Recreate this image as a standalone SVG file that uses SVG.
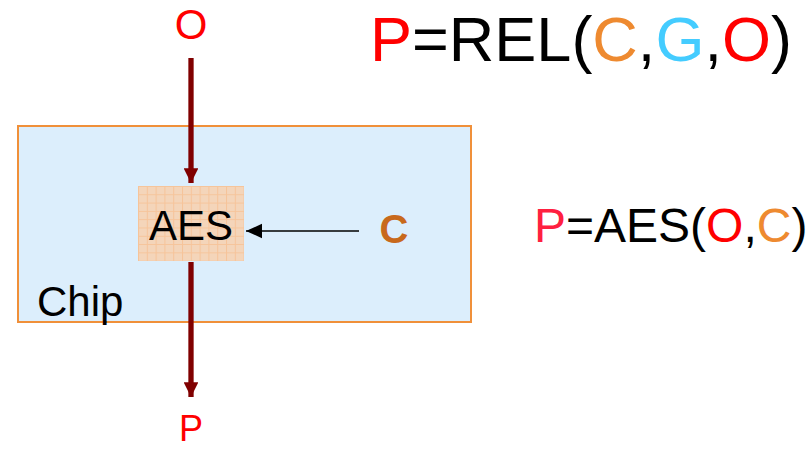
<svg xmlns="http://www.w3.org/2000/svg" width="811" height="449" viewBox="0 0 811 449">
<defs>
<style>
text{font-family:"Liberation Sans",Arial,sans-serif}
.red{fill:#FF0000}
.org{fill:#EE8A30}
.blu{fill:#44CCFF}
.blk{fill:#000000}
</style>
<pattern id="grid" x="138" y="186" width="8.8" height="8.3" patternUnits="userSpaceOnUse">
<rect width="8.8" height="8.3" fill="#F4D5BA"/>
<path d="M0 0.5H8.8M0.5 0V8.3" stroke="#F6C49A" stroke-width="1"/>
</pattern>
<marker id="ahRed" viewBox="0 0 10 10" refX="10" refY="5" markerWidth="2.8" markerHeight="2.8" orient="auto" markerUnits="strokeWidth">
<path d="M0 0L10 5L0 10Z" fill="#800000"/>
</marker>
<marker id="ahBlk" viewBox="0 0 10 10" refX="10" refY="5" markerWidth="10" markerHeight="10" orient="auto" markerUnits="strokeWidth">
<path d="M0 0.5L10 5L0 9.5Z" fill="#000"/>
</marker>
</defs>
<rect width="811" height="449" fill="#FFFFFF"/>
<g id="chip">
<rect x="18" y="126" width="453" height="196" fill="#DCEEFC" stroke="#F0903A" stroke-width="2"/>
<text x="37" y="316" font-size="42" class="blk">Chip</text>
</g>
<g id="aes">
<rect x="138" y="186" width="106" height="75" fill="url(#grid)"/>
<text x="191" y="240" font-size="42" text-anchor="middle" class="blk">AES</text>
</g>
<g id="inputO">
<text x="191" y="39" font-size="42" text-anchor="middle" class="red">O</text>
</g>
<g id="inputC">
<text x="394" y="243" font-size="40" font-weight="bold" text-anchor="middle" fill="#C8691C">C</text>
</g>
<g id="outputP">
<text x="191" y="441" font-size="36" text-anchor="middle" class="red">P</text>
</g>
<g id="connectors">
<line x1="191" y1="58" x2="191" y2="183" stroke="#800000" stroke-width="5.3" marker-end="url(#ahRed)"/>
<line x1="191" y1="262" x2="191" y2="397" stroke="#800000" stroke-width="5.3" marker-end="url(#ahRed)"/>
<line x1="359" y1="231" x2="246" y2="231" stroke="#000" stroke-width="1.6" marker-end="url(#ahBlk)"/>
</g>
<g id="formula1">
<text x="370" y="61" font-size="63"><tspan class="red">P</tspan><tspan class="blk">=REL(</tspan><tspan class="org">C</tspan><tspan class="blk">,</tspan><tspan class="blu">G</tspan><tspan class="blk">,</tspan><tspan class="red">O</tspan><tspan class="blk">)</tspan></text>
</g>
<g id="formula2">
<text x="534" y="242" font-size="48"><tspan fill="#FF2040">P</tspan><tspan class="blk">=AES(</tspan><tspan class="red">O</tspan><tspan class="blk">,</tspan><tspan class="org">C</tspan><tspan class="blk">)</tspan></text>
</g>
</svg>
